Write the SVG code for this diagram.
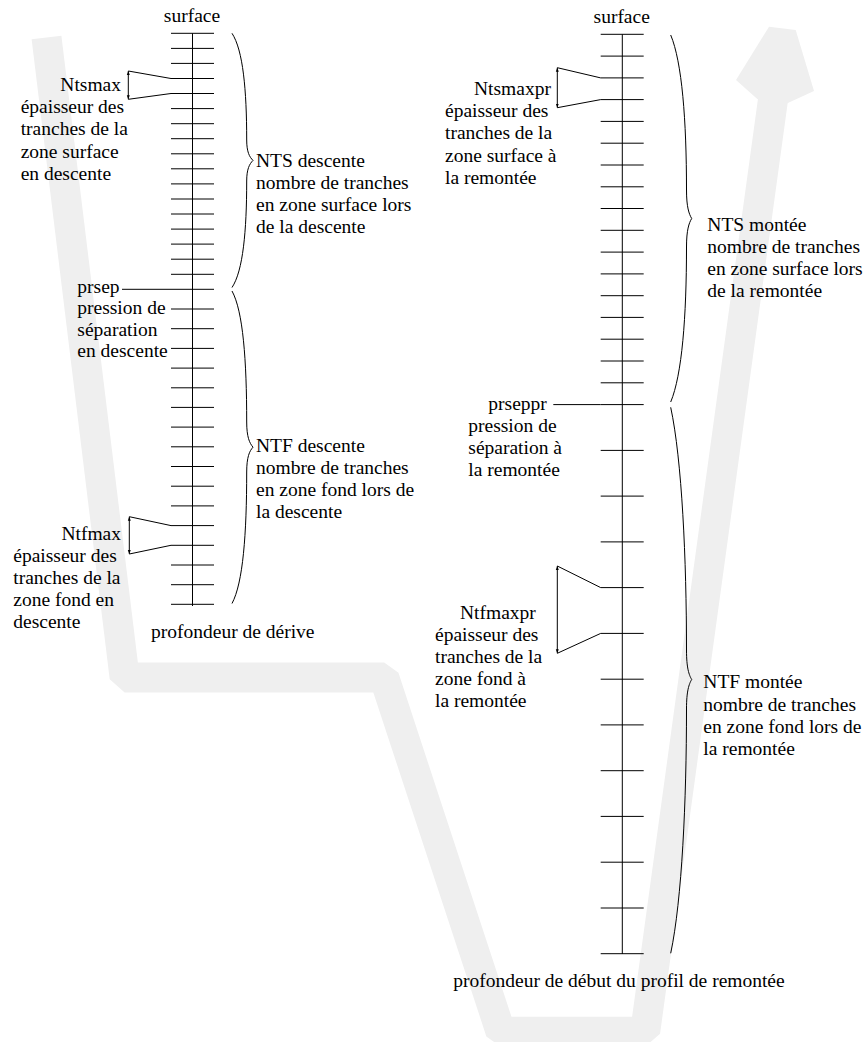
<svg xmlns="http://www.w3.org/2000/svg" width="866" height="1042" viewBox="0 0 866 1042">
<style>
text{font-family:'Liberation Serif','Times New Roman',serif;font-size:19.5px;fill:#000}
.end{text-anchor:end}
.mid{text-anchor:middle}
.ln{stroke:#000;stroke-width:1;fill:none}
.band{stroke:#efefef;stroke-width:30;fill:none;stroke-linejoin:bevel;stroke-linecap:butt}
</style>
<defs>
<marker id="dim" viewBox="0 0 6 6" refX="6" refY="3" markerWidth="4" markerHeight="4" orient="auto-start-reverse">
<path d="M0,0.8 L6,3 L0,5.2 z" fill="#000"/>
</marker>
</defs>

<g id="profile-band">
<polyline class="band" points="46.5,37.5 124.6,677.5 384.2,677.5 500.6,1031.7 645.2,1031.7 773.5,96"/>
<polygon fill="#efefef" points="757.3,99 736,80 769,26.7 795.7,30 814,91 787.3,103.3"/>
</g>

<g id="scale-descent">
<path class="ln" d="M192.5,33.3 V606"/>
<path class="ln" d="M171,33.3 h43 M171,48.4 h43 M171,63.4 h43 M171,78.5 h43 M171,93.5 h43 M171,108.6 h43 M171,123.7 h43 M171,138.7 h43 M171,153.8 h43 M171,168.8 h43 M171,183.9 h43 M171,199 h43 M171,214 h43 M171,229.1 h43 M171,244.1 h43 M171,259.2 h43 M171,274.3 h43 M171,289.3 h43 M171,309 h43 M171,328.7 h43 M171,348.4 h43 M171,368.1 h43 M171,387.8 h43 M171,407.4 h43 M171,427.1 h43 M171,446.8 h43 M171,466.5 h43 M171,486.2 h43 M171,505.9 h43 M171,525.6 h43 M171,545.3 h43 M171,565 h43 M171,584.7 h43 M171,604.3 h43"/>
<text class="mid" x="192" y="22.3" font-family="Liberation Serif">surface</text>
<text x="151" y="638.3" font-family="Liberation Serif">profondeur de dérive</text>
</g>

<g id="scale-ascent">
<path class="ln" d="M622.3,34.3 V954"/>
<path class="ln" d="M600.7,34.3 h43 M600.7,56.1 h43 M600.7,77.9 h43 M600.7,99.6 h43 M600.7,121.4 h43 M600.7,143.2 h43 M600.7,165 h43 M600.7,186.8 h43 M600.7,208.5 h43 M600.7,230.3 h43 M600.7,252.1 h43 M600.7,273.9 h43 M600.7,295.7 h43 M600.7,317.4 h43 M600.7,339.2 h43 M600.7,361 h43 M600.7,382.8 h43 M600.7,404.6 h43 M600.7,450.4 h43 M600.7,496.1 h43 M600.7,541.9 h43 M600.7,587.6 h43 M600.7,633.4 h43 M600.7,679.2 h43 M600.7,724.9 h43 M600.7,770.7 h43 M600.7,816.4 h43 M600.7,862.2 h43 M600.7,908 h43 M600.7,953.7 h43"/>
<text class="mid" x="621.7" y="23.3">surface</text>
<text x="453.3" y="986.7">profondeur de début du profil de remontée</text>
</g>

<g id="connectors">
<path class="ln" d="M232,33.3 C243,50 246.7,90 246.7,140 C246.7,152 249.5,157 253,160.4 C249.5,164 246.7,169 246.7,181 C246.7,231 243,271 232,287.5"/>
<path class="ln" d="M232,291 C243,311 246.7,360 246.7,422 C246.7,437 249.5,443 253,447.2 C249.5,451 246.7,457 246.7,472 C246.7,534 243,583 232,603.5"/>
<path class="ln" d="M670.7,35 C682,62 686.5,120 686.5,190 C686.5,207 689,214 691.7,218.5 C689,223 686.5,230 686.5,247 C686.5,317 682,375 670.7,402"/>
<path class="ln" d="M670.7,407.3 C682,460 686.5,560 686.5,650 C686.5,668 689,675 691.7,679.5 C689,684 686.5,691 686.5,709 C686.5,800 682,900 670.7,953.3"/>
<path class="ln" d="M122,289.3 H171"/>
<path class="ln" d="M553.3,404.6 H600.7"/>
<path class="ln" d="M128.3,71 L171,78.5 M128.3,99.3 L171,93.5"/>
<path class="ln" d="M128.3,71 V99.3" marker-start="url(#dim)" marker-end="url(#dim)"/>
<path class="ln" d="M129.3,516.7 L171,525.6 M129.3,554 L171,545.3"/>
<path class="ln" d="M129.3,516.7 V554" marker-start="url(#dim)" marker-end="url(#dim)"/>
<path class="ln" d="M557.3,67.7 L600.7,77.9 M557.3,107.7 L600.7,99.6"/>
<path class="ln" d="M557.3,67.7 V107.7" marker-start="url(#dim)" marker-end="url(#dim)"/>
<path class="ln" d="M557.3,566 L600.7,587.6 M557.3,653.3 L600.7,633.4"/>
<path class="ln" d="M557.3,566 V653.3" marker-start="url(#dim)" marker-end="url(#dim)"/>
</g>

<g id="label-ntsmax">
<text class="end" x="121" y="91">Ntsmax</text>
<text x="20.7" y="113.2">épaisseur des</text>
<text x="20.7" y="135.4">tranches de la</text>
<text x="20.7" y="157.6">zone surface</text>
<text x="20.7" y="179.8">en descente</text>
</g>
<g id="label-prsep">
<text x="77.3" y="292.7">prsep</text>
<text x="77.3" y="314.2">pression de</text>
<text x="77.3" y="335.8">séparation</text>
<text x="77.3" y="357.4">en descente</text>
</g>
<g id="label-ntfmax">
<text class="end" x="121" y="539.5">Ntfmax</text>
<text x="13.3" y="561.7">épaisseur des</text>
<text x="13.3" y="583.9">tranches de la</text>
<text x="13.3" y="606.1">zone fond en</text>
<text x="13.3" y="628.3">descente</text>
</g>
<g id="label-nts-descente">
<text x="256" y="166.5">NTS descente</text>
<text x="256" y="188.7">nombre de tranches</text>
<text x="256" y="210.9">en zone surface lors</text>
<text x="256" y="233.1">de la descente</text>
</g>
<g id="label-ntf-descente">
<text x="256" y="451.5">NTF descente</text>
<text x="256" y="473.7">nombre de tranches</text>
<text x="256" y="495.9">en zone fond lors de</text>
<text x="256" y="518.1">la descente</text>
</g>
<g id="label-ntsmaxpr">
<text x="474" y="95">Ntsmaxpr</text>
<text x="445" y="117.2">épaisseur des</text>
<text x="445" y="139.4">tranches de la</text>
<text x="445" y="161.6">zone surface à</text>
<text x="445" y="183.8">la remontée</text>
</g>
<g id="label-prseppr">
<text x="488.3" y="409.5">prseppr</text>
<text x="468.3" y="431.7">pression de</text>
<text x="468.3" y="453.9">séparation à</text>
<text x="468.3" y="476.1">la remontée</text>
</g>
<g id="label-ntfmaxpr">
<text x="460" y="618.5">Ntfmaxpr</text>
<text x="435" y="640.7">épaisseur des</text>
<text x="435" y="662.9">tranches de la</text>
<text x="435" y="685.1">zone fond à</text>
<text x="435" y="707.3">la remontée</text>
</g>
<g id="label-nts-montee">
<text x="707.3" y="230.5">NTS montée</text>
<text x="707.3" y="252.7">nombre de tranches</text>
<text x="707.3" y="274.9">en zone surface lors</text>
<text x="707.3" y="297.1">de la remontée</text>
</g>
<g id="label-ntf-montee">
<text x="703.3" y="688.3">NTF montée</text>
<text x="703.3" y="710.5">nombre de tranches</text>
<text x="703.3" y="732.7">en zone fond lors de</text>
<text x="703.3" y="754.9">la remontée</text>
</g>
</svg>
